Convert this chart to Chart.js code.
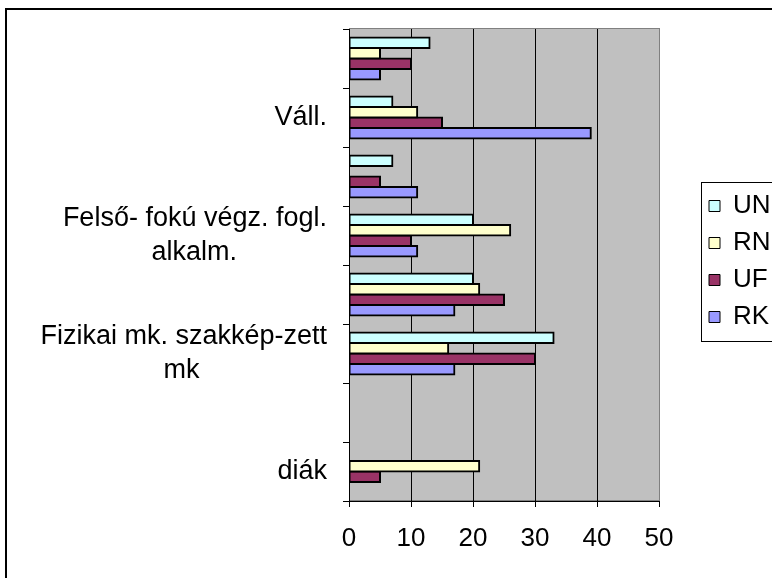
<!DOCTYPE html>
<html>
<head>
<meta charset="utf-8">
<script src="https://cdn.jsdelivr.net/npm/chart.js@4.4.1/dist/chart.umd.min.js"></script>
<style>
    html, body { margin: 0; padding: 0; background: #fff; overflow: hidden; }
    #frame { position: absolute; left: 5px; top: 8px; width: 820px; height: 600px; border: 2px solid #000; }
    canvas { display: block; }
</style>
</head>
<body>
<div id="frame"><canvas id="chart" width="820" height="600"></canvas></div>
<script>
// categories top to bottom, only every other one carries a label in the original
const categories = [
    '',
    'Váll.',
    '',
    ['Felső- fokú végz. fogl.', 'alkalm.'],
    '',
    ['Fizikai mk. szakkép-zett', 'mk'],
    '',
    'diák'
];
const seriesNames = ['UN', 'RN', 'UF', 'RK'];
const UN = [13, 7, 7, 20, 20, 33, null, null];
const RN = [5, 11, null, 26, 21, 16, null, 21];
const UF = [10, 15, 5, 10, 25, 30, null, 5];
const RK = [5, 39, 11, 11, 17, 17, null, null];
const xTicks = [0, 10, 20, 30, 40, 50];

const colors = ['#ccffff', '#ffffcc', '#993366', '#9999ff'];
const FAMILY = '"Liberation Sans", Arial, sans-serif';
const FONT = { family: FAMILY, size: 26 };
const LABEL_FONT = { family: FAMILY, size: 27, lineHeight: 1.25 };

// centre the lines of a multi line label while the block stays right aligned
const measure = document.createElement('canvas').getContext('2d');
measure.font = LABEL_FONT.size + 'px ' + FAMILY;
function centreLines(label) {
    if (!Array.isArray(label)) return label;
    const widths = label.map(t => measure.measureText(t).width);
    const widest = Math.max(...widths);
    const space = measure.measureText(' ').width;
    return label.map((t, i) => t + ' '.repeat(Math.round((widest - widths[i]) / 2 / space)));
}

const plotBackground = {
    id: 'plotBackground',
    beforeDraw(chart) {
        const { ctx, chartArea: a } = chart;
        ctx.save();
        ctx.fillStyle = '#c0c0c0';
        ctx.fillRect(a.left, a.top, a.width, a.height);
        ctx.strokeStyle = '#808080';
        ctx.lineWidth = 1;
        ctx.strokeRect(a.left + 0.5, a.top - 0.5, a.width, a.height);
        ctx.restore();
    }
};

const LEGEND_GAP = 39;
const LEGEND_LIFT = 58;
const legendBox = {
    id: 'legendBox',
    beforeInit(chart) {
        const fit = chart.legend.fit;
        chart.legend.fit = function () {
            fit.call(this);
            this.width = 168;
        };
    },
    afterLayout(chart) {
        const l = chart.legend;
        l.left += LEGEND_GAP;
        l.right += LEGEND_GAP;
        l.top -= LEGEND_LIFT;
        l.bottom -= LEGEND_LIFT;
    },
    afterDraw(chart) {
        const l = chart.legend;
        const boxes = l.legendHitBoxes;
        if (!boxes || !boxes.length) return;
        const first = boxes[0];
        const last = boxes[boxes.length - 1];
        const top = Math.round(first.top + first.height / 2 - 24) + 0.5;
        const bottom = Math.round(last.top + last.height / 2 + 24) + 0.5;
        const ctx = chart.ctx;
        ctx.save();
        ctx.strokeStyle = '#000';
        ctx.lineWidth = 1;
        ctx.strokeRect(Math.round(l.left + 3) + 0.5, top, 300, bottom - top);
        ctx.restore();
    }
};

const ctx = document.getElementById('chart').getContext('2d');
new Chart(ctx, {
    type: 'bar',
    data: {
        labels: categories,
        datasets: [UN, RN, UF, RK].map((values, i) => ({
            label: seriesNames[i],
            data: values,
            backgroundColor: colors[i],
            borderColor: '#000',
            borderWidth: 2,
            borderSkipped: false,
            inflateAmount: 1,
            barPercentage: 1,
            categoryPercentage: 0.71
        }))
    },
    options: {
        indexAxis: 'y',
        responsive: false,
        animation: false,
        layout: { padding: { top: 19, left: 0, right: 0, bottom: 0 } },
        plugins: {
            tooltip: { enabled: false },
            legend: {
                position: 'right',
                labels: {
                    font: FONT,
                    color: '#000',
                    boxWidth: 11,
                    boxHeight: 11,
                    padding: 11,
                    generateLabels(chart) {
                        return Chart.defaults.plugins.legend.labels.generateLabels(chart)
                            .map(item => Object.assign(item, { lineWidth: 1, strokeStyle: '#000' }));
                    }
                }
            }
        },
        scales: {
            x: {
                min: xTicks[0],
                max: xTicks[xTicks.length - 1],
                afterBuildTicks(scale) {
                    scale.ticks = xTicks.map(v => ({ value: v }));
                },
                afterFit(scale) {
                    scale.height = 109;
                    scale.paddingLeft = 0;
                    scale.paddingRight = 0;
                },
                ticks: { font: FONT, color: '#000', padding: 16 },
                grid: {
                    color: c => (c.tick && c.tick.value === 50 ? '#808080' : '#000'),
                    tickColor: '#000',
                    tickLength: 6,
                    lineWidth: 1
                },
                border: { color: '#000', width: 1 }
            },
            y: {
                afterFit(scale) {
                    scale.width = 342;
                    scale.paddingTop = 0;
                    scale.paddingBottom = 0;
                },
                ticks: {
                    font: LABEL_FONT,
                    color: '#000',
                    padding: 16,
                    autoSkip: false,
                    callback: function (value) {
                        return centreLines(this.getLabelForValue(value));
                    }
                },
                grid: {
                    drawOnChartArea: false,
                    color: '#000',
                    tickLength: 6,
                    offset: true
                },
                border: { color: '#000', width: 1 }
            }
        }
    },
    plugins: [plotBackground, legendBox]
});
</script>
</body>
</html>
